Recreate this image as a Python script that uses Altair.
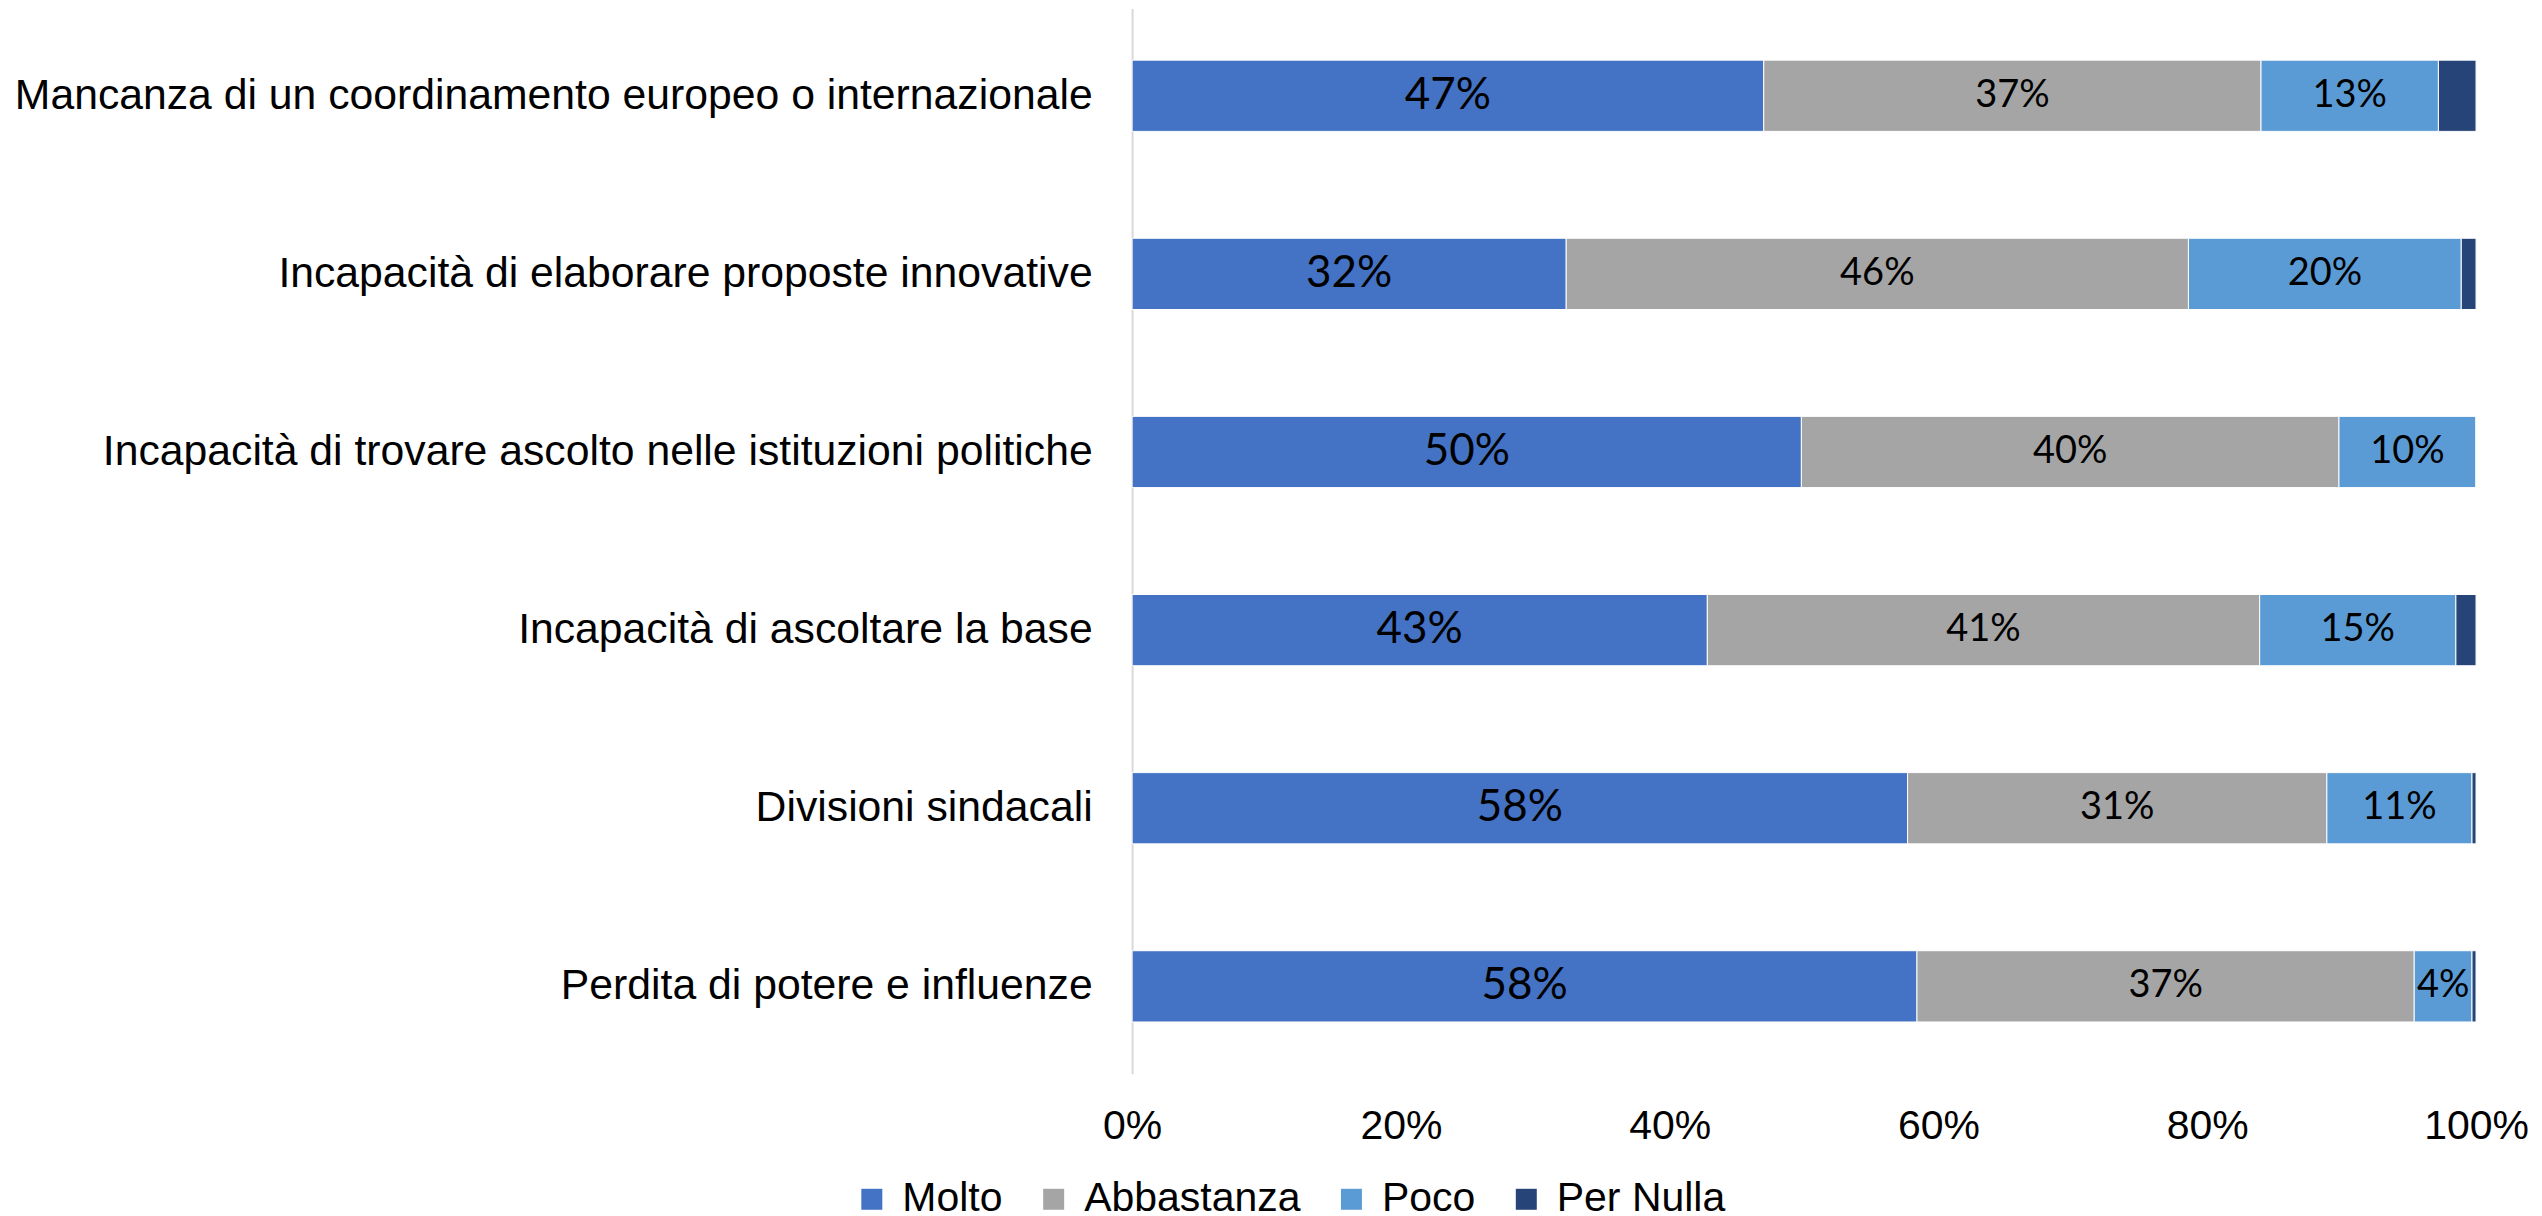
import altair as alt
import pandas as pd

categories = [
    "Mancanza di un coordinamento europeo o internazionale",
    "Incapacità di elaborare proposte innovative",
    "Incapacità di trovare ascolto nelle istituzioni politiche",
    "Incapacità di ascoltare la base",
    "Divisioni sindacali",
    "Perdita di potere e influenze",
]
series = ["Molto", "Abbastanza", "Poco", "Per Nulla"]
molto = [47.0, 32.3, 49.8, 42.8, 57.7, 58.4]
abbastanza = [37.0, 46.3, 40.0, 41.1, 31.2, 37.0]
poco = [13.2, 20.3, 10.2, 14.6, 10.8, 4.3]
per_nulla = [2.8, 1.1, 0.0, 1.5, 0.3, 0.3]
colors = ["#4472C4", "#A5A5A5", "#5B9BD5", "#264478"]
tick_values = [0, 20, 40, 60, 80, 100]

rows = []
for s_i, (s, vals) in enumerate(zip(series, [molto, abbastanza, poco, per_nulla])):
    for c, v in zip(categories, vals):
        rows.append({"categoria": c, "serie": s, "ordine": s_i, "valore": v})
df = pd.DataFrame(rows)

base = alt.Chart(df)

y_enc = alt.Y(
    "categoria:N",
    sort=categories,
    title=None,
    scale=alt.Scale(paddingInner=0.6, paddingOuter=0.29),
    axis=alt.Axis(
        labelFont="Liberation Sans",
        labelFontSize=42.75,
        labelColor="#000000",
        labelPadding=40,
        labelLimit=3000,
        ticks=False,
        domain=True,
        domainColor="#D9D9D9",
        domainWidth=2,
        grid=False,
    ),
)

bars = base.mark_bar(stroke="white", strokeWidth=1).encode(
    x=alt.X(
        "valore:Q",
        stack="zero",
        title=None,
        scale=alt.Scale(domain=[0, 100], nice=False),
        axis=alt.Axis(
            values=tick_values,
            labelExpr="datum.value + '%'",
            labelFont="Liberation Sans",
            labelFontSize=41,
            labelColor="#000000",
            labelPadding=33,
            labelFlush=False,
            labelOverlap=False,
            ticks=False,
            domain=False,
            grid=False,
        ),
    ),
    y=y_enc,
    color=alt.Color(
        "serie:N",
        sort=series,
        scale=alt.Scale(domain=series, range=colors),
        legend=alt.Legend(
            title=None,
            orient="none",
            direction="horizontal",
            legendX=-281,
            legendY=1171,
            symbolType="square",
            symbolSize=441,
            symbolStrokeWidth=0,
            labelFont="Liberation Sans",
            labelFontSize=41,
            labelColor="#000000",
            labelLimit=1000,
            labelOffset=10,
            columnPadding=30,
            padding=0,
        ),
    ),
    order=alt.Order("ordine:Q", sort="ascending"),
)

labels = (
    base.transform_filter(alt.datum.serie != "Per Nulla")
    .transform_stack(
        stack="valore",
        groupby=["categoria"],
        as_=["v0", "v1"],
        sort=[alt.SortField("ordine", order="ascending")],
    )
    .transform_calculate(
        mid="(datum.v0 + datum.v1) / 2",
        testo="format(datum.valore, '.0f') + '%'",
    )
    .mark_text(font="Lato", baseline="middle", align="center", color="#000000")
    .encode(
        x=alt.X("mid:Q"),
        y=alt.Y("categoria:N", sort=categories),
        text="testo:N",
        size=alt.condition(alt.datum.serie == "Molto", alt.value(44), alt.value(38)),
    )
)

chart = (
    alt.layer(bars, labels)
    .properties(
        width=1345,
        height=1066,
        padding={"left": 6, "top": 0, "right": 5, "bottom": 0},
    )
    .configure_view(stroke=None)
)

chart.save("out.html", embed_options={"renderer": "svg", "actions": False})
